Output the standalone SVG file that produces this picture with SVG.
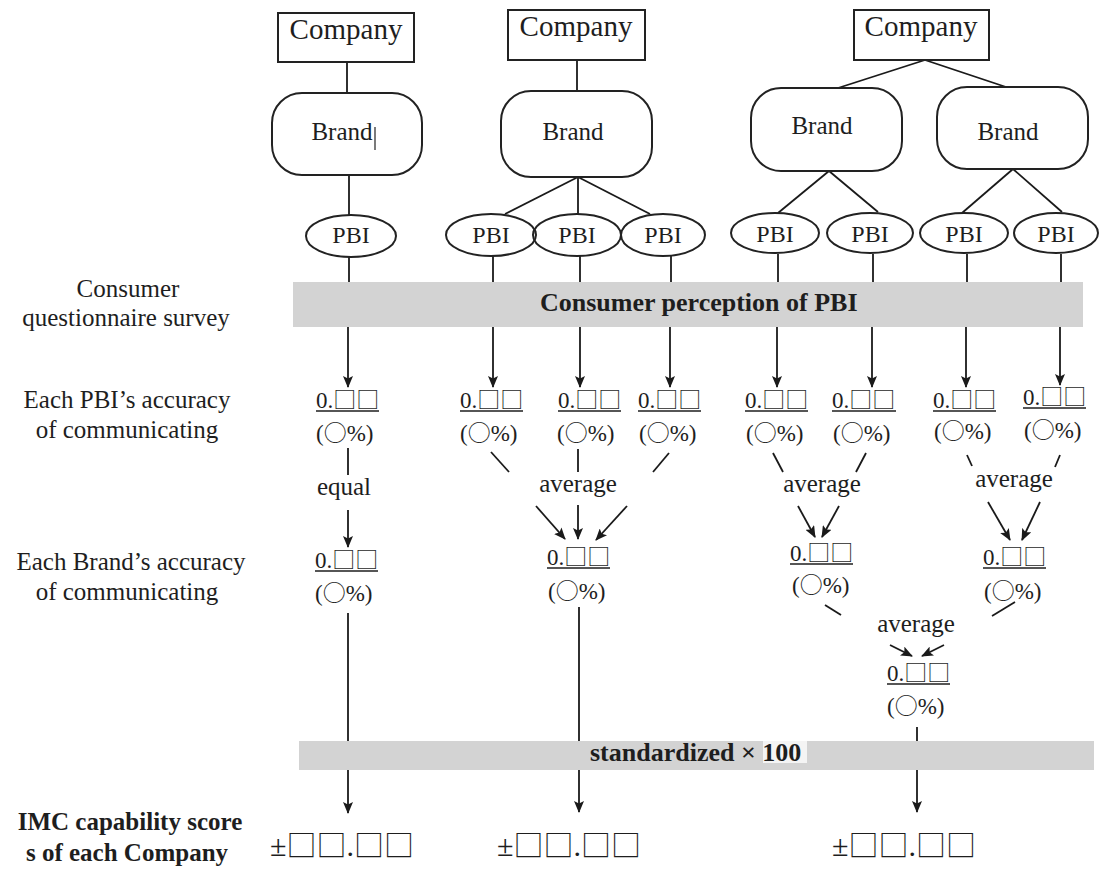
<svg xmlns="http://www.w3.org/2000/svg" width="1099" height="869" viewBox="0 0 1099 869">
<defs>
<style>
.box{fill:#fff;stroke:#222;stroke-width:2}
.ell{fill:none;stroke:#222;stroke-width:2}
.ln{stroke:#1a1a1a;stroke-width:1.8;fill:none}
.arr{stroke:#1a1a1a;stroke-width:1.8;fill:none;marker-end:url(#ah)}
.band{fill:#d3d3d3}
.t{font-family:"Liberation Serif",serif;fill:#1e1e1e;font-size:25px}
.tm{text-anchor:middle}
.b{font-weight:bold}
.co{font-size:29px}
.pbi{font-size:24px}
.v{font-size:23px}
.sc{font-size:30px}
.cjk{font-family:"Noto Sans CJK JP","Noto Sans CJK SC",sans-serif}
.ul{stroke:#1e1e1e;stroke-width:1.4}
</style>
<marker id="ah" viewBox="0 0 12 10" refX="11" refY="5" markerWidth="12" markerHeight="10" markerUnits="userSpaceOnUse" orient="auto">
<path d="M0,0 L12,5 L0,10 L2.5,5 z" fill="#1a1a1a"/>
</marker>
</defs>
<rect width="1099" height="869" fill="#fff"/>

<g id="bands">
<rect class="band" x="293" y="282" width="790" height="45"/>
<rect class="band" x="299" y="741" width="795" height="29"/>
<rect x="763" y="741" width="44" height="22" fill="#f4f4f4"/>
</g>

<g id="connectors">
<line class="ln" x1="347" y1="62" x2="347" y2="93"/>
<line class="ln" x1="349" y1="175" x2="349" y2="215"/>
<line class="ln" x1="577" y1="60" x2="577" y2="91"/>
<line class="ln" x1="578" y1="177" x2="505" y2="214"/>
<line class="ln" x1="578" y1="177" x2="578" y2="215"/>
<line class="ln" x1="578" y1="177" x2="650" y2="214"/>
<line class="ln" x1="925" y1="60" x2="838" y2="88"/>
<line class="ln" x1="925" y1="60" x2="1006" y2="87"/>
<line class="ln" x1="829" y1="171" x2="778" y2="213"/>
<line class="ln" x1="829" y1="171" x2="878" y2="212"/>
<line class="ln" x1="1013" y1="169" x2="962" y2="213"/>
<line class="ln" x1="1013" y1="169" x2="1062" y2="212"/>
<!-- PBI to band 1 -->
<line class="ln" x1="349" y1="257" x2="349" y2="282"/>
<line class="ln" x1="493" y1="256" x2="493" y2="282"/>
<line class="ln" x1="580" y1="256" x2="580" y2="282"/>
<line class="ln" x1="671" y1="256" x2="671" y2="282"/>
<line class="ln" x1="778" y1="254" x2="778" y2="282"/>
<line class="ln" x1="873" y1="254" x2="873" y2="282"/>
<line class="ln" x1="967" y1="254" x2="967" y2="282"/>
<line class="ln" x1="1061" y1="254" x2="1061" y2="282"/>
<!-- band 1 to values -->
<line class="arr" x1="348" y1="327" x2="348" y2="387"/>
<line class="arr" x1="493" y1="327" x2="493" y2="387"/>
<line class="arr" x1="580" y1="327" x2="580" y2="387"/>
<line class="arr" x1="670" y1="327" x2="670" y2="387"/>
<line class="arr" x1="777" y1="327" x2="777" y2="387"/>
<line class="arr" x1="872" y1="327" x2="872" y2="387"/>
<line class="arr" x1="966" y1="327" x2="966" y2="387"/>
<line class="arr" x1="1060" y1="327" x2="1060" y2="385"/>
<!-- company 1 -->
<line class="ln" x1="348" y1="448" x2="348" y2="475"/>
<line class="arr" x1="348" y1="510" x2="348" y2="547"/>
<line class="ln" x1="348" y1="613" x2="348" y2="741"/>
<line class="arr" x1="348" y1="770" x2="348" y2="813"/>
<!-- company 2 -->
<line class="ln" x1="491" y1="452" x2="509" y2="472"/>
<line class="ln" x1="578" y1="449" x2="578" y2="472"/>
<line class="ln" x1="669" y1="453" x2="653" y2="472"/>
<line class="arr" x1="536" y1="506" x2="565" y2="539"/>
<line class="arr" x1="578" y1="505" x2="578" y2="539"/>
<line class="arr" x1="627" y1="506" x2="596" y2="540"/>
<line class="ln" x1="579" y1="607" x2="579" y2="741"/>
<line class="arr" x1="579" y1="770" x2="579" y2="812"/>
<!-- company 3 -->
<line class="ln" x1="773" y1="453" x2="783" y2="472"/>
<line class="ln" x1="866" y1="453" x2="856" y2="472"/>
<line class="arr" x1="798" y1="506" x2="815" y2="537"/>
<line class="arr" x1="839" y1="506" x2="822" y2="537"/>
<line class="ln" x1="967" y1="455" x2="972" y2="466"/>
<line class="ln" x1="1060" y1="455" x2="1055" y2="467"/>
<line class="arr" x1="988" y1="502" x2="1010" y2="540"/>
<line class="arr" x1="1040" y1="502" x2="1022" y2="540"/>
<line class="ln" x1="825" y1="605" x2="841" y2="615"/>
<line class="ln" x1="1015" y1="602" x2="992" y2="616"/>
<line class="arr" x1="890" y1="645" x2="912" y2="656"/>
<line class="arr" x1="944" y1="645" x2="922" y2="656"/>
<line class="ln" x1="917" y1="727" x2="917" y2="741"/>
<line class="arr" x1="917" y1="770" x2="917" y2="812"/>
</g>

<g id="company1"><rect class="box" x="278" y="13" width="136" height="49"/><text class="t co tm" x="346" y="39">Company</text></g>
<g id="company2"><rect class="box" x="508" y="10" width="137" height="50"/><text class="t co tm" x="576" y="36">Company</text></g>
<g id="company3"><rect class="box" x="854" y="10" width="135" height="50"/><text class="t co tm" x="921" y="36">Company</text></g>

<g id="brand1"><rect class="box" x="272" y="93" width="150" height="82" rx="30"/><text class="t tm" x="342" y="140">Brand</text><line x1="375" y1="127" x2="375" y2="150" stroke="#222" stroke-width="1.2"/></g>
<g id="brand2"><rect class="box" x="501" y="91" width="151" height="86" rx="30"/><text class="t tm" x="573" y="140">Brand</text></g>
<g id="brand3"><rect class="box" x="751" y="88" width="151" height="83" rx="30"/><text class="t tm" x="822" y="134">Brand</text></g>
<g id="brand4"><rect class="box" x="937" y="87" width="151" height="82" rx="30"/><text class="t tm" x="1008" y="140">Brand</text></g>

<g id="pbi1"><ellipse class="ell" cx="351" cy="236" rx="45" ry="21"/><text class="t pbi tm" x="351" y="243">PBI</text></g>
<g id="pbi2"><ellipse class="ell" cx="491" cy="235" rx="45" ry="21"/><text class="t pbi tm" x="491" y="243">PBI</text></g>
<g id="pbi3"><ellipse class="ell" cx="577" cy="235" rx="44" ry="21"/><text class="t pbi tm" x="577" y="243">PBI</text></g>
<g id="pbi4"><ellipse class="ell" cx="663" cy="235" rx="42" ry="21"/><text class="t pbi tm" x="663" y="243">PBI</text></g>
<g id="pbi5"><ellipse class="ell" cx="775" cy="233" rx="44" ry="20"/><text class="t pbi tm" x="775" y="242">PBI</text></g>
<g id="pbi6"><ellipse class="ell" cx="870" cy="233" rx="43" ry="20"/><text class="t pbi tm" x="870" y="242">PBI</text></g>
<g id="pbi7"><ellipse class="ell" cx="964" cy="233" rx="44" ry="20"/><text class="t pbi tm" x="964" y="242">PBI</text></g>
<g id="pbi8"><ellipse class="ell" cx="1056" cy="233" rx="42" ry="20"/><text class="t pbi tm" x="1056" y="242">PBI</text></g>

<g id="band-labels">
<text class="t b" x="540" y="311" font-size="26" style="font-size:26px">Consumer perception of PBI</text>
<text class="t b" x="590" y="761" style="font-size:26px">standardized × 100</text>
</g>

<g id="row-labels">
<text class="t tm" x="128" y="297">Consumer</text>
<text class="t tm" x="126" y="326">questionnaire survey</text>
<text class="t tm" x="127" y="408">Each PBI’s accuracy</text>
<text class="t tm" x="127" y="438">of communicating</text>
<text class="t tm" x="131" y="570">Each Brand’s accuracy</text>
<text class="t tm" x="127" y="600">of communicating</text>
<text class="t b tm" x="130" y="830">IMC capability score</text>
<text class="t b tm" x="127" y="861">s of each Company</text>
</g>

<g id="pbi-values">
<text class="t v" x="316" y="408">0.<tspan class="cjk">□□</tspan></text><line class="ul" x1="316" y1="411" x2="379" y2="411"/>
<text class="t v" x="316" y="441">(<tspan class="cjk">○</tspan>%)</text>
<text class="t v" x="460" y="408">0.<tspan class="cjk">□□</tspan></text><line class="ul" x1="460" y1="411" x2="523" y2="411"/>
<text class="t v" x="460" y="441">(<tspan class="cjk">○</tspan>%)</text>
<text class="t v" x="558" y="408">0.<tspan class="cjk">□□</tspan></text><line class="ul" x1="558" y1="411" x2="621" y2="411"/>
<text class="t v" x="557" y="441">(<tspan class="cjk">○</tspan>%)</text>
<text class="t v" x="638" y="408">0.<tspan class="cjk">□□</tspan></text><line class="ul" x1="638" y1="411" x2="701" y2="411"/>
<text class="t v" x="639" y="441">(<tspan class="cjk">○</tspan>%)</text>
<text class="t v" x="745" y="408">0.<tspan class="cjk">□□</tspan></text><line class="ul" x1="745" y1="411" x2="808" y2="411"/>
<text class="t v" x="746" y="441">(<tspan class="cjk">○</tspan>%)</text>
<text class="t v" x="832" y="408">0.<tspan class="cjk">□□</tspan></text><line class="ul" x1="832" y1="411" x2="896" y2="411"/>
<text class="t v" x="833" y="441">(<tspan class="cjk">○</tspan>%)</text>
<text class="t v" x="933" y="408">0.<tspan class="cjk">□□</tspan></text><line class="ul" x1="933" y1="411" x2="996" y2="411"/>
<text class="t v" x="934" y="439">(<tspan class="cjk">○</tspan>%)</text>
<text class="t v" x="1023" y="405">0.<tspan class="cjk">□□</tspan></text><line class="ul" x1="1023" y1="408" x2="1086" y2="408"/>
<text class="t v" x="1024" y="438">(<tspan class="cjk">○</tspan>%)</text>
</g>

<g id="ops">
<text class="t tm" x="344" y="495">equal</text>
<text class="t tm" x="578" y="492">average</text>
<text class="t tm" x="822" y="492">average</text>
<text class="t tm" x="1014" y="487">average</text>
<text class="t tm" x="916" y="632">average</text>
</g>

<g id="brand-values">
<text class="t v" x="315" y="568">0.<tspan class="cjk">□□</tspan></text><line class="ul" x1="315" y1="571" x2="378" y2="571"/>
<text class="t v" x="315" y="601">(<tspan class="cjk">○</tspan>%)</text>
<text class="t v" x="547" y="565">0.<tspan class="cjk">□□</tspan></text><line class="ul" x1="547" y1="568" x2="610" y2="568"/>
<text class="t v" x="548" y="599">(<tspan class="cjk">○</tspan>%)</text>
<text class="t v" x="790" y="561">0.<tspan class="cjk">□□</tspan></text><line class="ul" x1="790" y1="564" x2="853" y2="564"/>
<text class="t v" x="792" y="593">(<tspan class="cjk">○</tspan>%)</text>
<text class="t v" x="983" y="565">0.<tspan class="cjk">□□</tspan></text><line class="ul" x1="983" y1="568" x2="1046" y2="568"/>
<text class="t v" x="984" y="599">(<tspan class="cjk">○</tspan>%)</text>
<text class="t v" x="887" y="681">0.<tspan class="cjk">□□</tspan></text><line class="ul" x1="887" y1="684" x2="950" y2="684"/>
<text class="t v" x="887" y="714">(<tspan class="cjk">○</tspan>%)</text>
</g>

<g id="scores">
<text class="t sc" x="270" y="856">±<tspan class="cjk">□□</tspan>.<tspan class="cjk">□□</tspan></text>
<text class="t sc" x="497" y="856">±<tspan class="cjk">□□</tspan>.<tspan class="cjk">□□</tspan></text>
<text class="t sc" x="832" y="856">±<tspan class="cjk">□□</tspan>.<tspan class="cjk">□□</tspan></text>
</g>
</svg>
